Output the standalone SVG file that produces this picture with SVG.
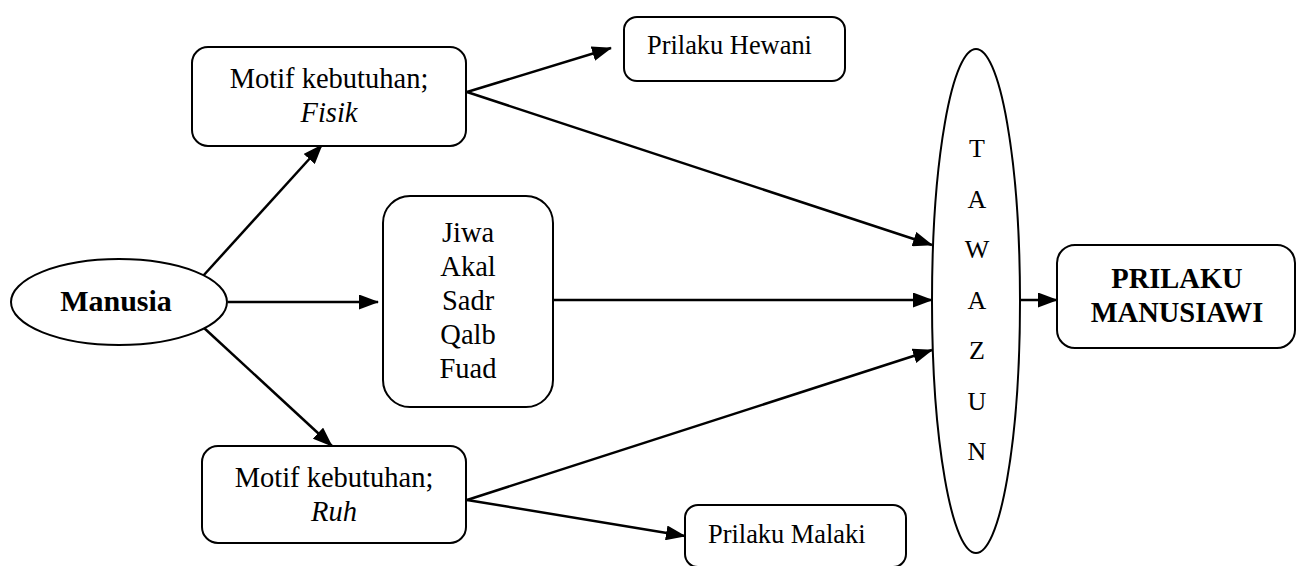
<svg xmlns="http://www.w3.org/2000/svg" width="1296" height="566" viewBox="0 0 1296 566">
<style>
.box{fill:#fff;stroke:#000;stroke-width:2}
text{font-family:'Liberation Serif','DejaVu Serif',serif;fill:#000}
.c{text-anchor:middle}
.con line{stroke:#000;stroke-width:2.5}
</style>
<defs>
<marker id="ah" viewBox="0 0 20 15" refX="19" refY="7.5" markerWidth="20" markerHeight="15" markerUnits="userSpaceOnUse" orient="auto">
<path d="M0,0 L20,7.5 L0,15 Z" fill="#000"/>
</marker>
</defs>
<rect width="1296" height="566" fill="#fff"/>
<g class="con">
<line x1="203" y1="276" x2="322" y2="145" marker-end="url(#ah)"/>
<line x1="228" y1="302" x2="378" y2="302" marker-end="url(#ah)"/>
<line x1="203" y1="327" x2="332" y2="446" marker-end="url(#ah)"/>
<line x1="467" y1="92" x2="611" y2="48" marker-end="url(#ah)"/>
<line x1="467" y1="92" x2="932" y2="245" marker-end="url(#ah)"/>
<line x1="553" y1="300" x2="932" y2="300" marker-end="url(#ah)"/>
<line x1="467" y1="500" x2="932" y2="350" marker-end="url(#ah)"/>
<line x1="467" y1="500" x2="685" y2="536" marker-end="url(#ah)"/>
<line x1="1020" y1="300" x2="1057" y2="300" marker-end="url(#ah)"/>
</g>
<g id="manusia">
<ellipse class="box" cx="119" cy="302" rx="108" ry="43"/>
<text class="c" x="116" y="311" font-size="30" font-weight="bold">Manusia</text>
</g>
<g id="fisik">
<rect class="box" x="192" y="47" width="274" height="99" rx="16"/>
<text class="c" x="329" y="88" font-size="28.5">Motif kebutuhan;</text>
<text class="c" x="329" y="122" font-size="28.5" font-style="italic">Fisik</text>
</g>
<g id="jiwa">
<rect class="box" x="383" y="196" width="170" height="211" rx="27"/>
<text class="c" x="468" y="242" font-size="28.5">Jiwa</text>
<text class="c" x="468" y="276" font-size="28.5">Akal</text>
<text class="c" x="468" y="310" font-size="28.5">Sadr</text>
<text class="c" x="468" y="344" font-size="28.5">Qalb</text>
<text class="c" x="468" y="378" font-size="28.5">Fuad</text>
</g>
<g id="ruh">
<rect class="box" x="202" y="446" width="264" height="97" rx="16"/>
<text class="c" x="334" y="487" font-size="28.5">Motif kebutuhan;</text>
<text class="c" x="334" y="521" font-size="28.5" font-style="italic">Ruh</text>
</g>
<g id="hewani">
<rect class="box" x="624" y="17" width="221" height="64" rx="13"/>
<text x="647" y="54" font-size="26.4">Prilaku Hewani</text>
</g>
<g id="malaki">
<rect class="box" x="685" y="505" width="221" height="62" rx="13"/>
<text x="708" y="543" font-size="26.4">Prilaku Malaki</text>
</g>
<g id="tawazun">
<ellipse class="box" cx="976" cy="301" rx="44" ry="252"/>
<text class="c" x="977" y="157" font-size="26">T</text>
<text class="c" x="977" y="208" font-size="26">A</text>
<text class="c" x="977" y="258" font-size="26">W</text>
<text class="c" x="977" y="309" font-size="26">A</text>
<text class="c" x="977" y="359" font-size="26">Z</text>
<text class="c" x="977" y="410" font-size="26">U</text>
<text class="c" x="977" y="460" font-size="26">N</text>
</g>
<g id="manusiawi">
<rect class="box" x="1057" y="245" width="238" height="103" rx="18"/>
<text class="c" x="1177" y="288" font-size="28.5" font-weight="bold">PRILAKU</text>
<text class="c" x="1177" y="322" font-size="28.5" font-weight="bold">MANUSIAWI</text>
</g>
</svg>
